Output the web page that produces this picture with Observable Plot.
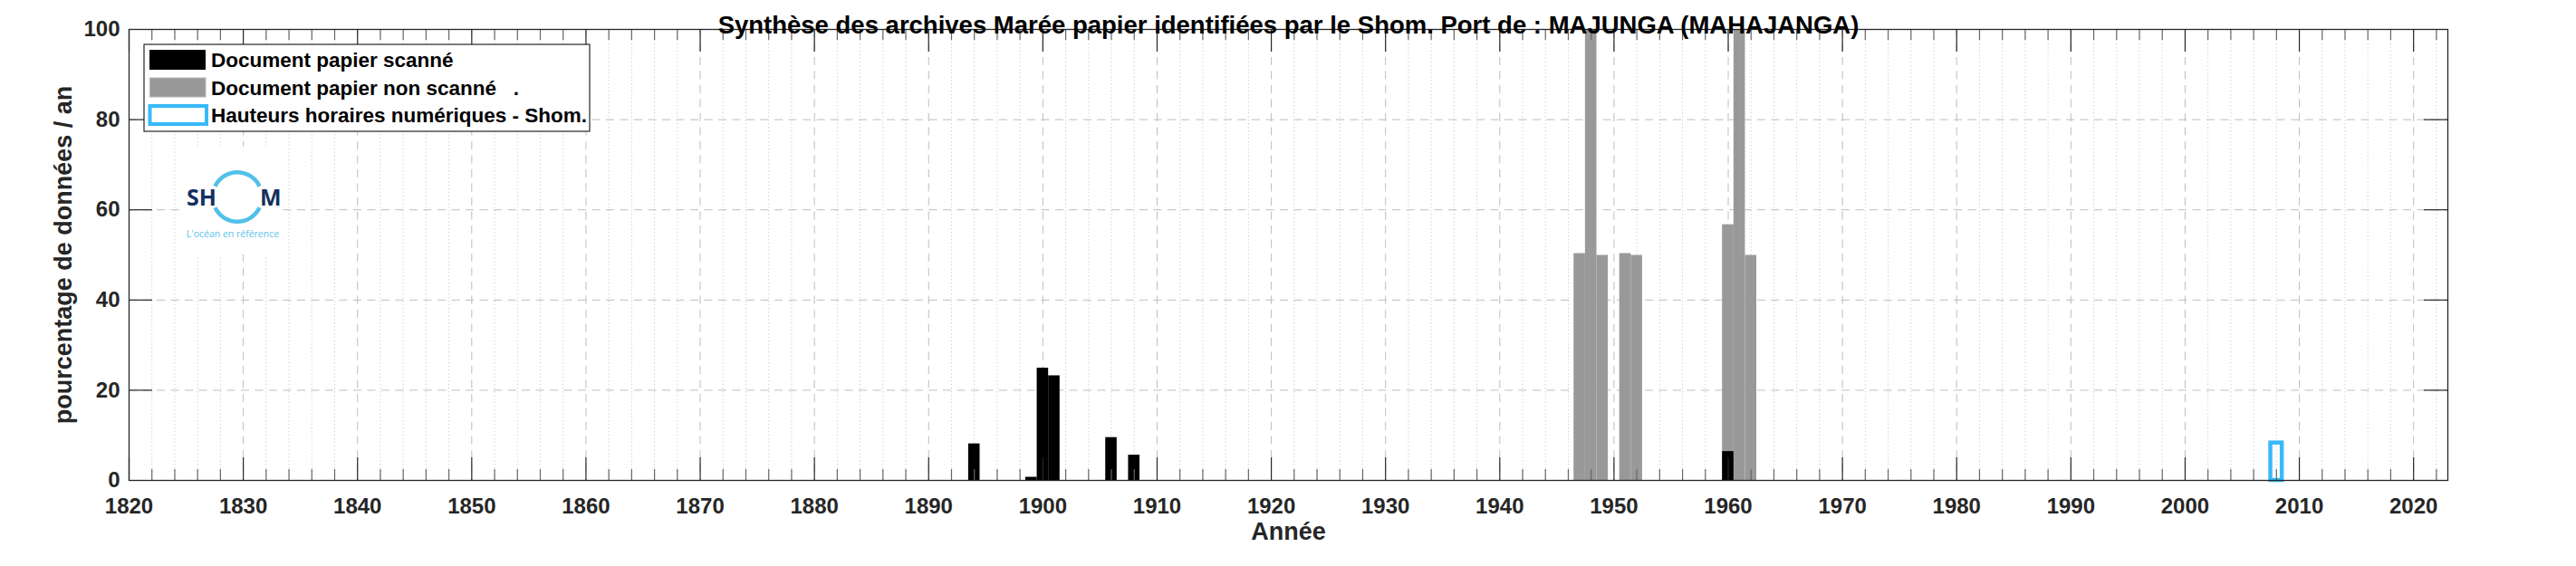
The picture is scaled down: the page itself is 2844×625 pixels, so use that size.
<!DOCTYPE html>
<html><head><meta charset="utf-8">
<script src="https://cdn.jsdelivr.net/npm/d3@7"></script>
<script src="https://cdn.jsdelivr.net/npm/@observablehq/plot@0.6"></script>
<style>html,body{margin:0;padding:0;background:#fff;} #chart svg{display:block;}</style>
</head><body><div id="chart"></div>
<script>
const titleText = "Synthèse des archives Marée papier identifiées par le Shom. Port de : MAJUNGA (MAHAJANGA)";
const xLabel = "Année";
const yLabel = "pourcentage de données / an";
const seriesNames = ["Document papier scanné", "Document papier non scanné   .", "Hauteurs horaires numériques - Shom."];
const seriesColors = ["#000000", "#999999", "#38b9fa"];

const scannedYears = [1894, 1899, 1900, 1901, 1906, 1908, 1960];
const scannedValues = [8.1, 0.7, 24.9, 23.2, 9.5, 5.6, 6.4];
const nonScannedYears = [1947, 1948, 1949, 1951, 1952, 1960, 1961, 1962];
const nonScannedValues = [50.3, 100, 49.9, 50.3, 49.9, 56.7, 100, 49.9];
const numericYears = [2008];
const numericValues = [8.3];

const xTickLabels = [1820, 1830, 1840, 1850, 1860, 1870, 1880, 1890, 1900, 1910, 1920, 1930, 1940, 1950, 1960, 1970, 1980, 1990, 2000, 2010, 2020];
const yTickLabels = [0, 20, 40, 60, 80, 100];
const logoTag = "L'océan en référence";

const W = 2844, H = 625, mL = 142, mR = 142, mT = 32, mB = 95;
const innerW = W - mL - mR, innerH = H - mT - mB;
const minorX = d3.range(1822, 2023, 2).filter(v => v % 10 !== 0);
const gridY = yTickLabels.filter(v => v > 0 && v < 100);
const rows = (years, values) => years.map((year, i) => ({year, value: values[i]}));
const scanned = rows(scannedYears, scannedValues);
const nonScanned = rows(nonScannedYears, nonScannedValues);
const numeric = rows(numericYears, numericValues);
const barOpts = {x1: d => d.year - 0.5, x2: d => d.year + 0.5, y1: 0, y2: "value"};

const plot = Plot.plot({
  width: W, height: H, marginLeft: mL, marginRight: mR, marginTop: mT, marginBottom: mB,
  style: {fontFamily: "'Liberation Sans', Arial, sans-serif", fontWeight: "bold", fontSize: "24px", color: "#262626", background: "#fff", overflow: "visible"},
  x: {domain: [1820, 2023]},
  y: {domain: [0, 100]},
  marks: [
    Plot.ruleX(minorX, {stroke: "#cdcdcd", strokeDasharray: "1.3,2.7"}),
    Plot.ruleX(xTickLabels, {stroke: "#bdbdbd", strokeDasharray: "9,6.5"}),
    Plot.ruleY(gridY, {stroke: "#bdbdbd", strokeDasharray: "9,6.5"}),
    Plot.rect(nonScanned, {...barOpts, fill: seriesColors[1]}),
    Plot.rect(scanned, {...barOpts, fill: seriesColors[0]}),
    Plot.rect(numeric, {...barOpts, fill: "none", stroke: seriesColors[2], strokeWidth: 4.5}),
    Plot.tickX(xTickLabels, {x: d => d, insetTop: innerH - 25, stroke: "#262626", strokeWidth: 1.2}),
    Plot.tickX(xTickLabels, {x: d => d, insetBottom: innerH - 25, stroke: "#262626", strokeWidth: 1.2}),
    Plot.tickX(minorX, {x: d => d, insetTop: innerH - 12, stroke: "#666", strokeWidth: 1.2}),
    Plot.tickX(minorX, {x: d => d, insetBottom: innerH - 12, stroke: "#666", strokeWidth: 1.2}),
    Plot.tickY(gridY, {y: d => d, insetRight: innerW - 26, stroke: "#262626", strokeWidth: 1.2}),
    Plot.tickY(gridY, {y: d => d, insetLeft: innerW - 26, stroke: "#262626", strokeWidth: 1.2}),
    Plot.axisX({ticks: xTickLabels, tickSize: 0, tickPadding: 19, tickFormat: d => String(d), label: null}),
    Plot.axisY({ticks: yTickLabels, tickSize: 0, tickPadding: 10, tickFormat: d => String(d), label: null}),
    Plot.frame({stroke: "#262626", strokeWidth: 1.3}),
    Plot.text([titleText], {text: d => d, frameAnchor: "top", textAnchor: "middle", dy: -15, fontSize: 27.5, fill: "#000"}),
    Plot.text([xLabel], {text: d => d, frameAnchor: "bottom", textAnchor: "middle", dy: 65, fontSize: 27, fill: "#262626"}),
    Plot.text([yLabel], {text: d => d, frameAnchor: "left", textAnchor: "middle", dx: -72, rotate: -90, fontSize: 27, fill: "#262626"})
  ]
});

const svg = d3.select(plot);

// logo
const logo = svg.append("g").attr("class", "logo");
logo.append("rect").attr("x", 200).attr("y", 162).attr("width", 112).attr("height", 119).attr("fill", "#fff");
const arc = d3.arc().innerRadius(25).outerRadius(29.5);
logo.append("path").attr("transform", "translate(262,217.5)")
  .attr("d", arc({startAngle: -Math.PI / 2 + 0.45, endAngle: Math.PI / 2 - 0.45})).attr("fill", "#52c0ea");
logo.append("path").attr("transform", "translate(262,217.5)")
  .attr("d", arc({startAngle: Math.PI / 2 + 0.45, endAngle: 3 * Math.PI / 2 - 0.45})).attr("fill", "#52c0ea");
logo.append("text").attr("x", 239).attr("y", 227).attr("text-anchor", "end")
  .attr("font-size", 25).attr("font-weight", "bold").attr("fill", "#14305e").attr("font-family", "'Open Sans', Arial, sans-serif").text("SH");
logo.append("text").attr("x", 287).attr("y", 227).attr("text-anchor", "start")
  .attr("font-size", 25).attr("font-weight", "bold").attr("fill", "#14305e").attr("font-family", "'Open Sans', Arial, sans-serif").text("M");
logo.append("text").attr("x", 257).attr("y", 262).attr("text-anchor", "middle")
  .attr("font-size", 10.5).attr("font-weight", "normal").attr("fill", "#5bc3ec").attr("font-family", "'Open Sans', Arial, sans-serif").text(logoTag);

// legend
const lg = svg.append("g").attr("class", "legend");
lg.append("rect").attr("x", 159).attr("y", 49).attr("width", 492).attr("height", 96)
  .attr("fill", "#fff").attr("stroke", "#262626").attr("stroke-width", 1.2);
const rowsY = [66, 96.5, 127];
lg.append("rect").attr("x", 165).attr("y", 55).attr("width", 62).attr("height", 22).attr("fill", seriesColors[0]);
lg.append("rect").attr("x", 165.5).attr("y", 86).attr("width", 61.5).attr("height", 21).attr("fill", seriesColors[1]).attr("stroke", "#b5b5b5").attr("stroke-width", 1);
lg.append("rect").attr("x", 165.5).attr("y", 117).attr("width", 62.5).attr("height", 20).attr("fill", "#fff").attr("stroke", seriesColors[2]).attr("stroke-width", 4);
seriesNames.forEach((name, i) => {
  lg.append("text").attr("x", 233).attr("y", rowsY[i] + 8).attr("text-anchor", "start").attr("font-size", 22.5).attr("font-weight", "bold")
    .attr("fill", "#000").style("white-space", "pre").text(name);
});

document.getElementById("chart").appendChild(plot);
</script>
</body></html>
